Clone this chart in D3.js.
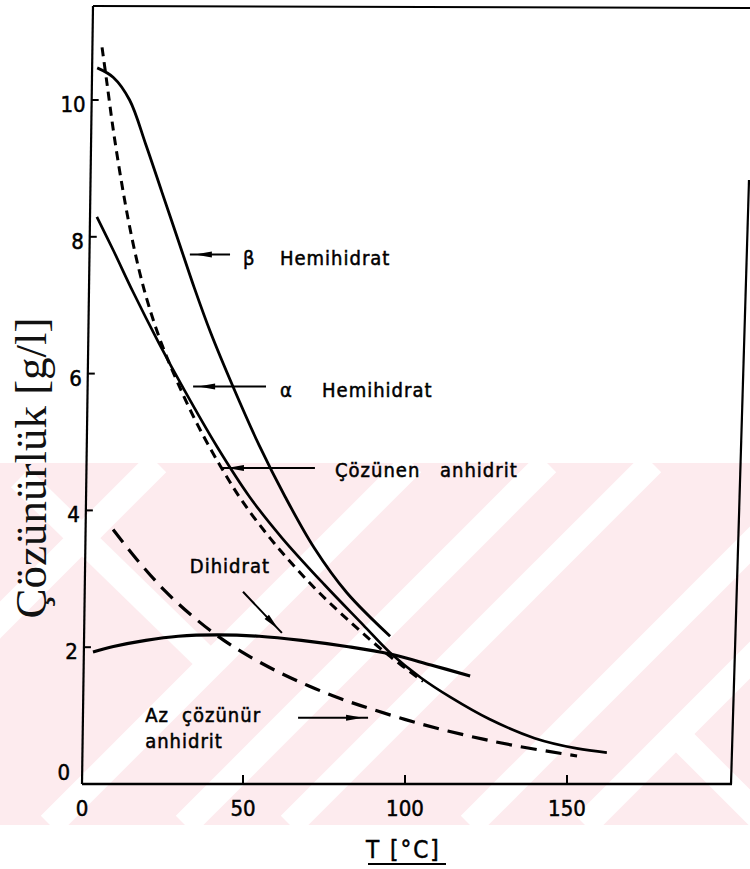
<!DOCTYPE html>
<html><head><meta charset="utf-8">
<script src="https://cdn.jsdelivr.net/npm/d3@7"></script>
<style>body{margin:0;background:#fff}svg{display:block}</style>
</head><body>
<svg id="c" width="750" height="869"></svg>
<script>
// ---------- data ----------
const xTickValues = [0, 50, 100, 150];
const xTickLabels = ["0", "50", "100", "150"];
const yTickValues = [0, 2, 4, 6, 8, 10];
const yTickLabels = ["0", "2", "4", "6", "8", "10"];

const betaT = [5, 10, 15, 20, 25, 30, 35, 40, 47, 55, 63, 72, 82, 95.4];
const betaS = [10.47, 10.33, 10.0, 9.35, 8.65, 7.95, 7.25, 6.6, 5.8, 4.95, 4.2, 3.45, 2.8, 2.16];

const alphaT = [6.5, 8, 10, 12.5, 15, 18, 21, 25, 30, 36, 43, 50, 60, 72, 84, 95, 105.6];
const alphaS = [10.77, 10.25, 9.55, 8.8, 8.15, 7.5, 6.98, 6.42, 5.85, 5.25, 4.65, 4.12, 3.5, 2.87, 2.33, 1.88, 1.5];

const solAnhT = [4.9, 10, 16, 24, 32, 42, 52, 62, 75, 87, 95.4, 105, 114, 126, 140, 153, 162.3];
const solAnhS = [8.29, 7.8, 7.2, 6.45, 5.75, 4.93, 4.2, 3.6, 2.92, 2.33, 1.92, 1.55, 1.27, 0.95, 0.67, 0.52, 0.46];

const dihT = [3.7, 10, 20, 30, 42, 55, 68, 82, 95.4, 108, 120.1];
const dihS = [1.93, 2.01, 2.1, 2.16, 2.18, 2.16, 2.1, 2.01, 1.9, 1.74, 1.58];

const insAnhT = [9.9, 18, 26, 34, 42, 50, 60, 70, 80, 90, 104, 119, 134, 153.1];
const insAnhS = [3.72, 3.24, 2.82, 2.47, 2.17, 1.92, 1.66, 1.44, 1.25, 1.09, 0.89, 0.71, 0.56, 0.41];

const seriesNames = ["β Hemihidrat", "α Hemihidrat", "Çözünen anhidrit", "Dihidrat", "Az çözünür anhidrit"];

// ---------- layout ----------
const svg = d3.select("#c");
const x = d3.scaleLinear().domain([0, 150]).range([81, 567]);
const y = d3.scaleLinear().domain([0, 10]).range([784, 100]);
const yTop = 6, yBot = y(0);
const axisX = py => 93 - 11 * (py - yTop) / (yBot - yTop);   // slightly slanted hand-drawn axis
const LF = "'DejaVu Sans Condensed','DejaVu Sans',sans-serif";

// ---------- watermark ----------
const wm = svg.append("g");
const wmTop = 463, wmBot = 825;
wm.append("rect").attr("x", 0).attr("y", wmTop).attr("width", 750).attr("height", wmBot - wmTop).attr("fill", "#fdebee");
const clip = svg.append("clipPath").attr("id", "wmclip");
clip.append("rect").attr("x", 0).attr("y", wmTop).attr("width", 750).attr("height", wmBot - wmTop);
const wg = wm.append("g").attr("clip-path", "url(#wmclip)");
[620, 875, 1010, 1115, 1295, 1410].forEach(c => {
  wg.append("line").attr("x1", c - wmBot).attr("y1", wmBot).attr("x2", c - wmTop).attr("y2", wmTop)
    .attr("stroke", "#fff").attr("stroke-width", 26);
});
wg.append("line").attr("x1", 20).attr("y1", 478).attr("x2", 207).attr("y2", 660).attr("stroke", "#fff").attr("stroke-width", 26);
wg.append("line").attr("x1", 672).attr("y1", 730).attr("x2", 770).attr("y2", 828).attr("stroke", "#fff").attr("stroke-width", 26);

// ---------- frame ----------
const frame = svg.append("g").attr("stroke", "#000").attr("fill", "none");
frame.append("line").attr("x1", axisX(yTop)).attr("y1", yTop).attr("x2", axisX(yBot)).attr("y2", yBot).attr("stroke-width", 2.2);
frame.append("line").attr("x1", axisX(yTop)).attr("y1", yTop).attr("x2", 750).attr("y2", yTop + 2).attr("stroke-width", 2);
frame.append("line").attr("x1", axisX(yBot)).attr("y1", yBot).attr("x2", 732).attr("y2", yBot).attr("stroke-width", 2.6);
frame.append("line").attr("x1", 749).attr("y1", 180).attr("x2", 731).attr("y2", yBot).attr("stroke-width", 2.2);

// x ticks (inward)
svg.append("g").selectAll("line").data(xTickValues.filter(v => v > 0)).join("line")
  .attr("x1", d => x(d)).attr("x2", d => x(d)).attr("y1", yBot).attr("y2", yBot - 9)
  .attr("stroke", "#000").attr("stroke-width", 2);
svg.append("g").selectAll("text").data(xTickValues).join("text")
  .attr("x", (d, i) => x(d) + (i === 0 ? 1 : 0)).attr("y", 816)
  .attr("text-anchor", "middle").attr("font-family", LF).attr("font-size", 22)
  .attr("stroke", "#000").attr("stroke-width", 0.5)
  .text((d, i) => xTickLabels[i]);

// y ticks (inward)
svg.append("g").selectAll("line").data(yTickValues.filter(v => v > 0)).join("line")
  .attr("x1", d => axisX(y(d))).attr("x2", d => axisX(y(d)) + 7).attr("y1", d => y(d)).attr("y2", d => y(d))
  .attr("stroke", "#000").attr("stroke-width", 2);
svg.append("g").selectAll("text").data(yTickValues).join("text")
  .attr("x", d => axisX(y(d)) - (d === 0 ? 12 : 6))
  .attr("y", d => Math.min(y(d) + 4, y(0) - 12) + 8)
  .attr("text-anchor", "end").attr("font-family", LF).attr("font-size", 22)
  .attr("stroke", "#000").attr("stroke-width", 0.5)
  .text((d, i) => yTickLabels[i]);

// axis titles
svg.append("text").attr("transform", "translate(46,468) rotate(-90)")
  .attr("text-anchor", "middle").attr("font-family", "'Liberation Serif','Times New Roman',serif")
  .attr("font-size", 45).attr("fill", "#111").text("Çözünürlük [g/l]");
svg.append("text").attr("x", 366).attr("y", 858).attr("font-family", LF)
  .attr("font-size", 24).attr("stroke", "#000").attr("stroke-width", 0.5).attr("letter-spacing", 2)
  .text("T [°C]");
svg.append("line").attr("x1", 368).attr("x2", 446).attr("y1", 864).attr("y2", 864).attr("stroke", "#000").attr("stroke-width", 2);

// ---------- curves ----------
const line = d3.line().x(d => x(d[0])).y(d => y(d[1])).curve(d3.curveCatmullRom.alpha(0.5));
const zip = (a, b) => a.map((v, i) => [v, b[i]]);
const curves = [
  { pts: zip(betaT, betaS), w: 2.8, dash: null },
  { pts: zip(alphaT, alphaS), w: 3, dash: "9,6" },
  { pts: zip(solAnhT, solAnhS), w: 2.7, dash: null },
  { pts: zip(dihT, dihS), w: 3.2, dash: null },
  { pts: zip(insAnhT, insAnhS), w: 3.2, dash: "16,9" }
];
svg.append("g").selectAll("path").data(curves).join("path")
  .attr("d", d => line(d.pts)).attr("fill", "none").attr("stroke", "#000")
  .attr("stroke-width", d => d.w).attr("stroke-dasharray", d => d.dash)
  .attr("stroke-linecap", "butt");

// ---------- annotations (data units) ----------
const annotations = [
  { parts: [["β ", 50.0], ["Hemihidrat", 61.4]], ty: 7.59, tail: [46.0, 7.74], tip: [33.6, 7.74] },
  { parts: [["α ", 61.4], ["Hemihidrat", 74.4]], ty: 5.66, tail: [57.1, 5.81], tip: [34.6, 5.81] },
  { parts: [["Çözünen ", 78.4], ["anhidrit", 110.8]], ty: 4.49, tail: [72.2, 4.62], tip: [43.5, 4.62] },
  { parts: [["Dihidrat", 33.6]], ty: 3.09, tail: [50.0, 2.81], tip: [62.0, 2.21] },
  { parts: [["Az ", 19.8], ["çözünür", 31.2]], ty: 0.91, tail: [67.0, 0.97], tip: [88.6, 0.97] },
  { parts: [["anhidrit", 19.8]], ty: 0.53, tail: null, tip: null }
];
const ag = svg.append("g");
annotations.forEach(a => {
  const t = ag.append("text").attr("y", y(a.ty)).attr("font-family", LF).attr("font-size", 20)
    .attr("letter-spacing", 1).attr("stroke", "#000").attr("stroke-width", 0.5);
  a.parts.forEach(p => t.append("tspan").attr("x", x(p[1])).text(p[0]));
  if (a.tail) {
    const tx = x(a.tip[0]), tyy = y(a.tip[1]), qx = x(a.tail[0]), qy = y(a.tail[1]);
    ag.append("line").attr("x1", qx).attr("y1", qy).attr("x2", tx).attr("y2", tyy)
      .attr("stroke", "#000").attr("stroke-width", 2);
    const L = Math.hypot(qx - tx, qy - tyy), ux = (qx - tx) / L, uy = (qy - tyy) / L, nx = -uy, ny = ux;
    const a0 = 5, hl = 17, hw = 3;
    const p0 = [tx + ux * a0, tyy + uy * a0];
    const p1 = [tx + ux * (a0 + hl) + nx * hw, tyy + uy * (a0 + hl) + ny * hw];
    const p2 = [tx + ux * (a0 + hl) - nx * hw, tyy + uy * (a0 + hl) - ny * hw];
    ag.append("path").attr("d", d3.line()([p0, p1, p2]) + "Z").attr("fill", "#000");
  }
});
</script>
</body></html>
